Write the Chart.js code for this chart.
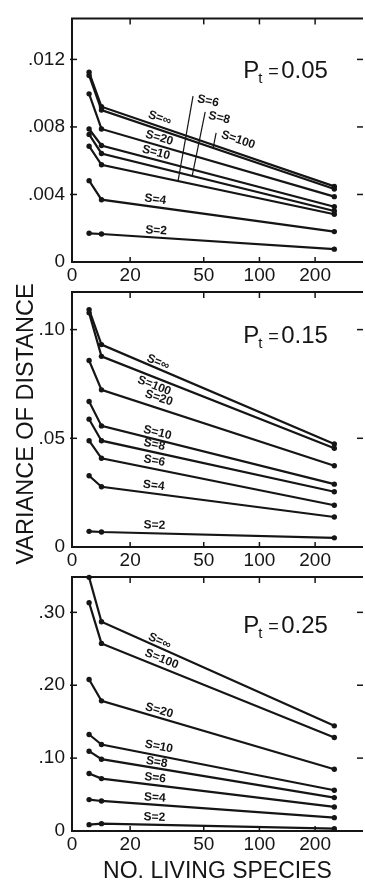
<!DOCTYPE html>
<html>
<head>
<meta charset="utf-8">
<script src="https://cdn.jsdelivr.net/npm/chart.js@4.4.1/dist/chart.umd.min.js"></script>
<style>
  html, body { margin: 0; padding: 0; background: #fff; }
  #wrap { position: relative; width: 365px; height: 887px; }
  #wrap canvas { position: absolute; left: 0; top: 0; }
</style>
</head>
<body>
<div id="wrap">
  <canvas id="p1" width="365" height="887"></canvas>
  <canvas id="p2" width="365" height="887"></canvas>
  <canvas id="p3" width="365" height="887"></canvas>
</div>
<script>
// no. of living species where the points sit (log axis)
const species = [12, 14, 254];
const xTicks = [20, 50, 100, 200];
const xMin = 9.7, xMax = 363;

const seriesNames = ['S=∞', 'S=100', 'S=20', 'S=10', 'S=8', 'S=6', 'S=4', 'S=2'];

// variance of distance, one row per series (same order as seriesNames)
const var05 = [
  [0.01124, 0.00920, 0.00448],
  [0.01105, 0.00900, 0.00432],
  [0.00996, 0.00788, 0.00387],
  [0.00788, 0.00690, 0.00327],
  [0.00756, 0.00643, 0.00302],
  [0.00686, 0.00576, 0.00283],
  [0.00482, 0.00369, 0.00180],
  [0.00170, 0.00166, 0.00076]
];
const var15 = [
  [0.1092, 0.0931, 0.0474],
  [0.1077, 0.0877, 0.0454],
  [0.0858, 0.0723, 0.0374],
  [0.0669, 0.0557, 0.0289],
  [0.0588, 0.0489, 0.0254],
  [0.0489, 0.0408, 0.0192],
  [0.0328, 0.0277, 0.0138],
  [0.0072, 0.0069, 0.0042]
];
const var25 = [
  [0.348, 0.2872, 0.1443],
  [0.3133, 0.2574, 0.1282],
  [0.2079, 0.1786, 0.0847],
  [0.1324, 0.1186, 0.0559],
  [0.1095, 0.0985, 0.0458],
  [0.0788, 0.0719, 0.0330],
  [0.0431, 0.0412, 0.0183],
  [0.0087, 0.0101, 0.0032]
];

const yTicks05 = [0, 0.004, 0.008, 0.012];
const yLabels05 = ['0', '.004', '.008', '.012'];
const yTicks15 = [0, 0.05, 0.10];
const yLabels15 = ['0', '.05', '.10'];
const yTicks25 = [0, 0.10, 0.20, 0.30];
const yLabels25 = ['0', '.10', '.20', '.30'];

const ink = '#151515';
const FONT = "'Liberation Sans', Arial, sans-serif";
Chart.defaults.font.family = FONT;
Chart.defaults.color = ink;

// point on a drawn polyline at data x (pixel interpolation)
function linePoint(chart, di, xv) {
  const pts = chart.getDatasetMeta(di).data;
  const px = chart.scales.x.getPixelForValue(xv);
  let i = 0;
  while (i < pts.length - 2 && pts[i + 1].x < px) i++;
  const a = pts[i], b = pts[i + 1];
  const t = (px - a.x) / (b.x - a.x);
  return { x: px, y: a.y + t * (b.y - a.y), ang: Math.atan2(b.y - a.y, b.x - a.x) };
}

const framePlugin = {
  id: 'frame',
  beforeDatasetsDraw(chart) {
    const { ctx, chartArea: ca, scales: { x, y } } = chart;
    const seg = (x1, y1, x2, y2) => { ctx.beginPath(); ctx.moveTo(x1, y1); ctx.lineTo(x2, y2); ctx.stroke(); };
    ctx.save();
    ctx.strokeStyle = ink;
    ctx.lineWidth = 2;
    ctx.beginPath();
    ctx.moveTo(ca.right, ca.top);
    ctx.lineTo(ca.left, ca.top);
    ctx.lineTo(ca.left, ca.bottom);
    ctx.lineTo(ca.right, ca.bottom);
    ctx.stroke();
    ctx.lineWidth = 1.5;
    x.ticks.forEach(t => {
      if (t.value <= x.min) return;
      const px = x.getPixelForValue(t.value);
      seg(px, ca.top, px, ca.top + 6);
      seg(px, ca.bottom, px, ca.bottom - 5);
    });
    y.ticks.forEach(t => {
      if (t.value <= 0) return;
      const py = y.getPixelForValue(t.value);
      seg(ca.left - 2, py, ca.left + 5, py);
      seg(ca.right - 6, py, ca.right, py);
    });
    ctx.restore();
  }
};

const notesPlugin = {
  id: 'notes',
  afterDatasetsDraw(chart, args, opts) {
    const { ctx, scales: { x, y } } = chart;
    ctx.save();
    ctx.fillStyle = ink;
    ctx.strokeStyle = ink;
    // series labels along the lines
    ctx.font = 'bold 12px ' + FONT;
    ctx.textAlign = 'center';
    ctx.textBaseline = 'middle';
    (opts.labels || []).forEach(l => {
      const p = linePoint(chart, l.ds, l.at);
      ctx.save();
      ctx.translate(p.x, p.y);
      ctx.rotate(p.ang);
      ctx.fillText(chart.data.datasets[l.ds].label, 0, l.dy);
      ctx.restore();
    });
    // labels with leader lines
    ctx.lineWidth = 1.2;
    (opts.leaders || []).forEach(l => {
      const p = linePoint(chart, l.ds, l.at);
      ctx.beginPath();
      ctx.moveTo(p.x, p.y);
      ctx.lineTo(p.x + l.tip[0], p.y + l.tip[1]);
      ctx.stroke();
      ctx.save();
      ctx.translate(p.x + l.text[0], p.y + l.text[1]);
      ctx.rotate(p.ang);
      ctx.fillText(chart.data.datasets[l.ds].label, 0, 0);
      ctx.restore();
    });
    // P_t annotation
    if (opts.pt) {
      const x0 = x.getPixelForValue(opts.pt.x), y0 = y.getPixelForValue(opts.pt.y);
      ctx.textAlign = 'left';
      ctx.textBaseline = 'alphabetic';
      ctx.font = '24px ' + FONT;
      ctx.fillText('P', x0, y0);
      ctx.font = '15px ' + FONT;
      ctx.fillText('t', x0 + 15, y0 + 5);
      ctx.font = '18px ' + FONT;
      ctx.fillText('=', x0 + 25, y0 - 1);
      ctx.font = '24px ' + FONT;
      ctx.fillText(opts.pt.value, x0 + 38, y0);
    }
    // shared y title
    if (opts.yTitle) {
      ctx.translate(33, 424);
      ctx.rotate(-Math.PI / 2);
      ctx.font = '23.5px ' + FONT;
      ctx.textAlign = 'center';
      ctx.textBaseline = 'alphabetic';
      ctx.fillText(opts.yTitle, 0, 0);
    }
    ctx.restore();
  }
};

function makePanel(id, rows, yMax, yTicks, yLabels, top, bottom, notes, xTitle) {
  const xH = xTitle ? 56 : 28;
  return new Chart(document.getElementById(id), {
    type: 'line',
    data: {
      datasets: rows.map((r, i) => ({
        label: seriesNames[i],
        data: r.map((v, j) => ({ x: species[j], y: v })),
        borderColor: ink,
        borderWidth: 2.2,
        pointRadius: 2.7,
        pointBackgroundColor: ink,
        pointBorderWidth: 0,
        tension: 0,
        clip: false
      }))
    },
    options: {
      responsive: false,
      animation: false,
      devicePixelRatio: 1,
      events: [],
      layout: { autoPadding: false, padding: { top: top, bottom: 887 - bottom - xH, left: 0, right: 2 } },
      plugins: { legend: { display: false }, tooltip: { enabled: false }, notes: notes },
      scales: {
        x: {
          type: 'logarithmic',
          min: xMin,
          max: xMax,
          afterBuildTicks: s => { s.ticks = [xMin, ...xTicks].map(v => ({ value: v })); },
          afterFit: s => { s.height = xH; },
          grid: { display: false, drawTicks: false },
          border: { display: false },
          ticks: {
            padding: 2, autoSkip: false, maxRotation: 0, color: ink,
            font: { size: 19 },
            callback: v => (v === xMin ? '0' : String(v))
          },
          title: {
            display: !!xTitle, text: xTitle || '', color: ink,
            font: { size: 23 }, padding: { top: 0, bottom: 2 }
          }
        },
        y: {
          min: 0,
          max: yMax,
          afterBuildTicks: s => { s.ticks = yTicks.map(v => ({ value: v })); },
          afterFit: s => { s.width = 72; },
          grid: { display: false, drawTicks: false },
          border: { display: false },
          ticks: {
            padding: 7, color: ink, font: { size: 19 },
            callback: v => yLabels[yTicks.indexOf(v)]
          }
        }
      }
    },
    plugins: [framePlugin, notesPlugin]
  });
}

makePanel('p1', var05, 0.01443, yTicks05, yLabels05, 7, 262, {
  pt: { x: 81.7, y: 0.01087, value: '0.05' },
  labels: [
    { ds: 0, at: 28, dy: -8 },
    { ds: 2, at: 28, dy: -7.5 },
    { ds: 3, at: 27, dy: -7 },
    { ds: 6, at: 27, dy: -7.5 },
    { ds: 7, at: 27.5, dy: -7 }
  ],
  leaders: [
    { ds: 5, at: 36.3, tip: [15, -85], text: [30, -80] },
    { ds: 4, at: 43.3, tip: [13, -64], text: [27, -58] },
    { ds: 1, at: 56.2, tip: [3, -15], text: [25, -8] }
  ]
});

makePanel('p2', var15, 0.1173, yTicks15, yLabels15, 292, 547, {
  pt: { x: 81.7, y: 0.094, value: '0.15' },
  yTitle: 'VARIANCE OF DISTANCE',
  labels: [
    { ds: 0, at: 27.5, dy: -6 },
    { ds: 1, at: 28, dy: 8 },
    { ds: 2, at: 27.5, dy: -10 },
    { ds: 3, at: 27.5, dy: -7 },
    { ds: 4, at: 26.5, dy: -7.5 },
    { ds: 5, at: 26.5, dy: -8 },
    { ds: 6, at: 26.5, dy: -8 },
    { ds: 7, at: 27, dy: -8 }
  ]
});

makePanel('p3', var25, 0.3485, yTicks25, yLabels25, 577, 831, {
  pt: { x: 81.7, y: 0.2716, value: '0.25' },
  labels: [
    { ds: 0, at: 28, dy: -6 },
    { ds: 1, at: 28.5, dy: -8 },
    { ds: 2, at: 28, dy: -7 },
    { ds: 3, at: 28, dy: -9 },
    { ds: 4, at: 27.5, dy: -6 },
    { ds: 5, at: 27, dy: -7 },
    { ds: 6, at: 27, dy: -7 },
    { ds: 7, at: 27, dy: -7.5 }
  ]
}, 'NO. LIVING SPECIES');
</script>
</body>
</html>
